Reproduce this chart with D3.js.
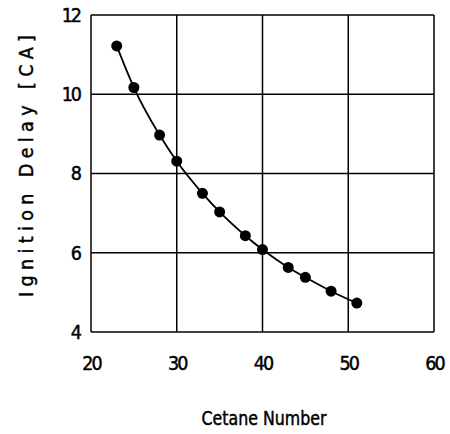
<!DOCTYPE html>
<html><head><meta charset="utf-8">
<script src="https://cdn.jsdelivr.net/npm/d3@7"></script>
<style>body{margin:0;background:#fff}svg{display:block}</style>
</head><body>
<script>
const cetane = [23, 25, 28, 30, 33, 35, 38, 40, 43, 45, 48, 51];
const delay  = [11.22, 10.17, 8.97, 8.31, 7.50, 7.03, 6.43, 6.08, 5.63, 5.38, 5.03, 4.73];
const xTicks = [20, 30, 40, 50, 60];
const yTicks = [4, 6, 8, 10, 12];
const xLabel = "Cetane Number";
const yLabel = "Ignition Delay [CA]";

const W = 450, H = 434;
const svg = d3.select("body").append("svg").attr("width", W).attr("height", H);
const x = d3.scaleLinear().domain([20, 60]).range([91, 434]);
const y = d3.scaleLinear().domain([4, 12]).range([332, 15]);
const font = "'DejaVu Sans Condensed', 'DejaVu Sans', sans-serif";

// grid
svg.append("g").selectAll("line.v").data(xTicks).join("line")
  .attr("x1", d => x(d)).attr("x2", d => x(d)).attr("y1", y(4)).attr("y2", y(12))
  .attr("stroke", "#000").attr("stroke-width", 1.5);
svg.append("g").selectAll("line.h").data(yTicks).join("line")
  .attr("y1", d => y(d)).attr("y2", d => y(d)).attr("x1", x(20)).attr("x2", x(60))
  .attr("stroke", "#000").attr("stroke-width", 1.5);

function styleText(sel, size, ls) {
  sel.attr("font-family", font).attr("font-size", size).attr("letter-spacing", ls)
    .attr("fill", "#000").attr("stroke", "#000").attr("stroke-width", 0.45);
}

// axes tick labels
const xAxis = svg.append("g").attr("transform", `translate(0,${y(4)})`)
  .call(d3.axisBottom(x).tickValues(xTicks).tickSize(0).tickPadding(24));
xAxis.select(".domain").remove();
styleText(xAxis.selectAll("text"), 19.5, -2);

const yAxis = svg.append("g").attr("transform", `translate(${x(20)},0)`)
  .call(d3.axisLeft(y).tickValues(yTicks).tickSize(0).tickPadding(11));
yAxis.select(".domain").remove();
styleText(yAxis.selectAll("text"), 19.5, -2);

// curve
const pts = cetane.map((c, i) => [c, delay[i]]);
svg.append("path").datum(pts)
  .attr("d", d3.line().x(d => x(d[0])).y(d => y(d[1])).curve(d3.curveMonotoneX))
  .attr("fill", "none").attr("stroke", "#000").attr("stroke-width", 1.8);

svg.append("g").selectAll("circle").data(pts).join("circle")
  .attr("cx", d => x(d[0])).attr("cy", d => y(d[1])).attr("r", 5.5).attr("fill", "#000");

// labels
const xl = svg.append("text").attr("x", 264).attr("y", 425).attr("text-anchor", "middle")
  .attr("textLength", 125).attr("lengthAdjust", "spacingAndGlyphs").text(xLabel);
styleText(xl, 19.5, 0);
const yl = svg.append("text").attr("transform", "translate(33,166) rotate(-90)")
  .attr("text-anchor", "middle")
  .attr("textLength", 262).attr("lengthAdjust", "spacing")
  .text(yLabel);
styleText(yl, 19.5, 0);
</script>
</body></html>
